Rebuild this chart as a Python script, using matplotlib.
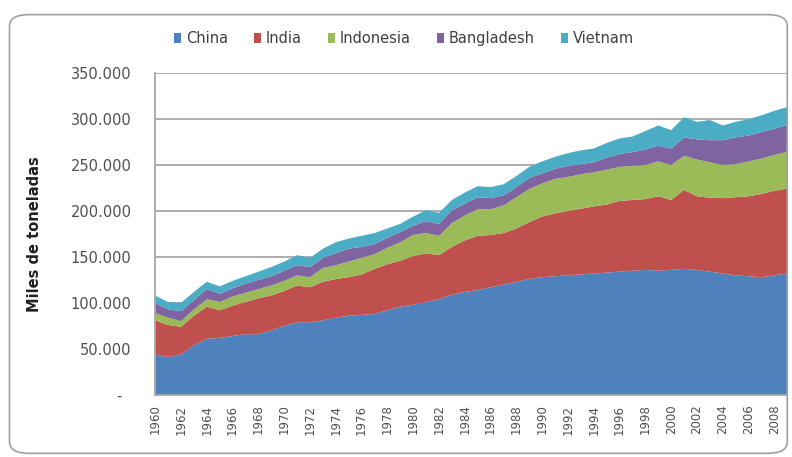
import matplotlib
matplotlib.use("Agg")
import matplotlib.pyplot as plt
from matplotlib.patches import FancyBboxPatch, Patch
from matplotlib.ticker import FuncFormatter

years = list(range(1960, 2010))

# miles de toneladas
china = [44, 41, 44, 54, 61, 62, 64, 66, 66, 70,
         75, 79, 79, 81, 84, 86, 87, 88, 92, 96,
         98, 101, 104, 109, 112, 114, 117, 120, 123, 126,
         128, 129, 130, 131, 132, 133, 134, 135, 136, 135,
         136, 137, 136, 134, 132, 130, 129, 128, 130, 132]
india = [37, 35, 30, 32, 35, 30, 33, 35, 39, 38,
         38, 40, 38, 42, 42, 42, 44, 49, 50, 50,
         53, 53, 48, 52, 56, 59, 57, 56, 58, 62,
         66, 68.5, 70, 71.5, 73, 74, 77, 77, 77, 81,
         76, 86, 80, 80.5, 82, 85, 87, 90.5, 92, 92.5]
indonesia = [8, 8, 6, 7, 8, 9, 10, 10, 10, 11,
             11, 11, 11, 15, 15, 17, 18, 16, 18, 20,
             23, 22, 21, 26, 27, 29, 28, 30, 34, 36,
             36, 37.5, 37, 37.5, 37, 38, 37, 37, 37, 38,
             38, 37, 40, 38.5, 36, 36, 38, 38.5, 39, 40]
bangladesh = [11, 9, 11, 10, 11, 9, 9, 10, 10, 10,
              11, 11, 11, 11, 13, 14, 12, 11, 11, 11,
              10, 13, 13, 14, 13, 13, 12, 11, 11, 12,
              11, 11, 12, 11, 11, 13, 14, 15, 17, 17,
              18, 20, 22, 24, 27, 29, 28, 29, 28.5, 29]
vietnam = [8, 8, 9, 9, 8, 8, 8, 8, 9, 10,
           10, 11, 10, 10, 12, 11, 12, 12, 10, 9,
           10, 12, 12, 11, 12, 12, 12, 12, 12, 12,
           13, 13, 14, 15, 15, 16, 17, 17, 20, 22,
           20, 22, 19, 22, 16, 17, 18, 18, 19.5, 19.5]

series = ["China", "India", "Indonesia", "Bangladesh", "Vietnam"]
colors = ["#4f81bd", "#c0504d", "#9bbb59", "#8064a2", "#4bacc6"]

fig = plt.figure(figsize=(7.92, 4.57), dpi=100)
ax = fig.add_axes([0.196, 0.136, 0.798, 0.704])

# marco redondeado del gráfico
frame = FancyBboxPatch((0.012, 0.008), 0.982, 0.96, boxstyle="round,pad=0,rounding_size=0.025",
                       transform=fig.transFigure, facecolor="none", edgecolor="#a0a0a0", lw=1.2)
fig.patches.append(frame)

ax.stackplot(years, china, india, indonesia, bangladesh, vietnam,
             colors=colors, linewidth=0, zorder=2)

ax.set_xlim(1960, 2009)
ax.set_ylim(0, 350)
ax.set_yticks(range(0, 351, 50))
ax.yaxis.set_major_formatter(FuncFormatter(lambda v, p: "-  " if v == 0 else f"{int(v)}.000"))
ax.set_xticks(range(1960, 2009, 2))
ax.set_xticklabels([str(y) for y in range(1960, 2009, 2)], rotation=90, fontsize=8.5, color="#505050")
ax.tick_params(axis="y", length=0, pad=17, labelsize=10.5, labelcolor="#505050")
ax.tick_params(axis="x", length=0, pad=7)

ax.grid(axis="y", color="#a6a6a6", lw=1.3, zorder=0)
ax.set_axisbelow(True)
for side in ["top", "right"]:
    ax.spines[side].set_visible(False)
ax.spines["left"].set_color("#a6a6a6")
ax.spines["bottom"].set_color("#a6a6a6")
ax.spines["left"].set_linewidth(1.3)
ax.spines["bottom"].set_linewidth(1.3)

ax.set_ylabel("Miles de toneladas", fontsize=10.5, fontweight="bold", color="#202020")
ax.yaxis.set_label_coords(-0.179, 0.5)

handles = [Patch(facecolor=c, edgecolor="none") for c in colors]
fig.legend(handles, series, loc="center", bbox_to_anchor=(0.51, 0.915), ncol=5, frameon=False,
           fontsize=10.5, handlelength=0.5, handleheight=0.7, handletextpad=0.3, columnspacing=1.8,
           labelcolor="#404040")

fig.savefig("out.png", dpi=100)
